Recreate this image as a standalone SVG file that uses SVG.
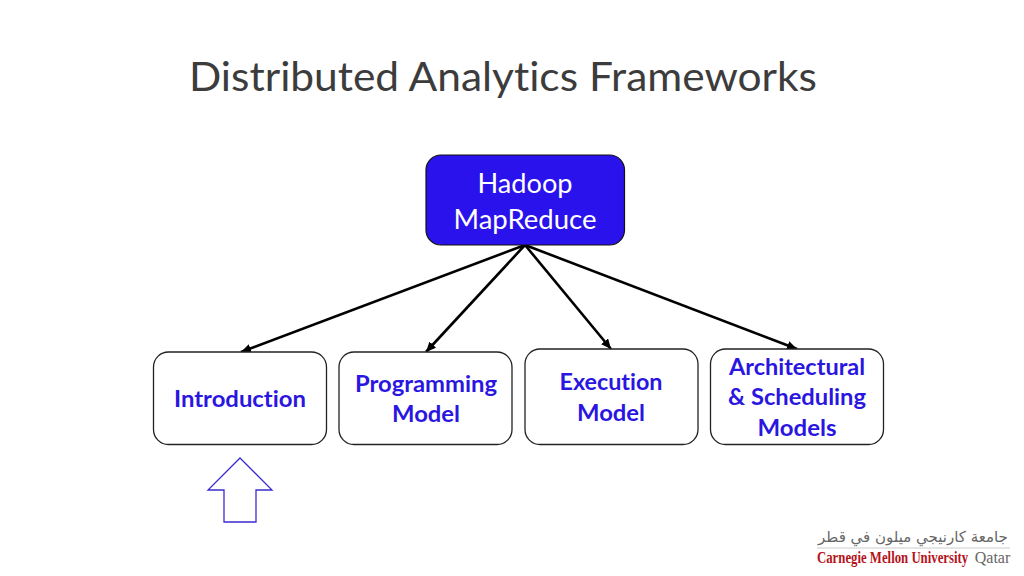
<svg xmlns="http://www.w3.org/2000/svg" width="1024" height="576" viewBox="0 0 1024 576">
<style>
text{font-family:"Lato","Open Sans",sans-serif;text-anchor:middle;font-variant-ligatures:none}
.title{font-size:41px;font-weight:400;fill:#3c3c3c}
.head{font-size:27px;fill:#fff}
.lab{font-size:23.5px;font-weight:700;fill:#2a16e0}
.box{fill:#fff;stroke:#222;stroke-width:1.3}
.conn{stroke:#000;stroke-width:2.6;fill:none;marker-end:url(#a)}
</style>
<defs><marker id="a" markerUnits="userSpaceOnUse" markerWidth="12" markerHeight="10" refX="10" refY="4.5" orient="auto"><path d="M0 0L10 4.5L0 9z" fill="#000"/></marker></defs>
<rect width="1024" height="576" fill="#fff"/>
<text class="title" x="503" y="91" textLength="628" lengthAdjust="spacingAndGlyphs">Distributed Analytics Frameworks</text>
<g id="connectors">
<line class="conn" x1="525" y1="245" x2="241" y2="352"/>
<line class="conn" x1="525" y1="245" x2="426" y2="352"/>
<line class="conn" x1="525" y1="245" x2="611" y2="349"/>
<line class="conn" x1="525" y1="245" x2="797" y2="349"/>
</g>
<g id="hadoop"><rect x="426" y="155" width="198.500" height="90" rx="15" fill="#2a12ec" stroke="#111" stroke-width="1.200"/>
<text class="head" x="525" y="193" textLength="95" lengthAdjust="spacingAndGlyphs">Hadoop</text><text class="head" x="525" y="229" textLength="143" lengthAdjust="spacingAndGlyphs">MapReduce</text></g>
<g id="intro"><rect class="box" x="153.500" y="352" width="173" height="92.500" rx="15"/><text class="lab" x="240" y="407" textLength="132" lengthAdjust="spacingAndGlyphs">Introduction</text></g>
<g id="programming"><rect class="box" x="339" y="352" width="173" height="92.500" rx="15"/><text class="lab" x="426" y="392" textLength="142" lengthAdjust="spacingAndGlyphs">Programming</text><text class="lab" x="426" y="422" textLength="68" lengthAdjust="spacingAndGlyphs">Model</text></g>
<g id="execution"><rect class="box" x="525" y="349" width="173" height="95.500" rx="15"/><text class="lab" x="611" y="390" textLength="103" lengthAdjust="spacingAndGlyphs">Execution</text><text class="lab" x="611" y="421" textLength="68" lengthAdjust="spacingAndGlyphs">Model</text></g>
<g id="architectural"><rect class="box" x="710.500" y="349" width="173" height="95.500" rx="15"/><text class="lab" x="797" y="375" textLength="136" lengthAdjust="spacingAndGlyphs">Architectural</text><text class="lab" x="797" y="405" textLength="138" lengthAdjust="spacingAndGlyphs">&amp; Scheduling</text><text class="lab" x="797" y="436" textLength="79" lengthAdjust="spacingAndGlyphs">Models</text></g>
<path id="up-arrow" d="M240 458L272 490H256V522H224V490H208Z" fill="#fff" stroke="#3a2bd0" stroke-width="1.300"/>
<g id="logo">
<text x="913" y="542" font-size="15" style="font-family:'DejaVu Sans',sans-serif" fill="#666" direction="rtl">جامعة كارنيجي ميلون في قطر</text>
<line x1="817" y1="548" x2="1010" y2="548" stroke="#ccc" stroke-width="1"/>
<text transform="translate(817 563) scale(.775 1)" font-size="16.500" font-weight="700" style="font-family:'Liberation Serif',serif;text-anchor:start" fill="#b5121b">Carnegie Mellon University</text>
<text x="992.500" y="563" font-size="16" style="font-family:'Liberation Serif',serif" fill="#666">Qatar</text>
</g>
</svg>
